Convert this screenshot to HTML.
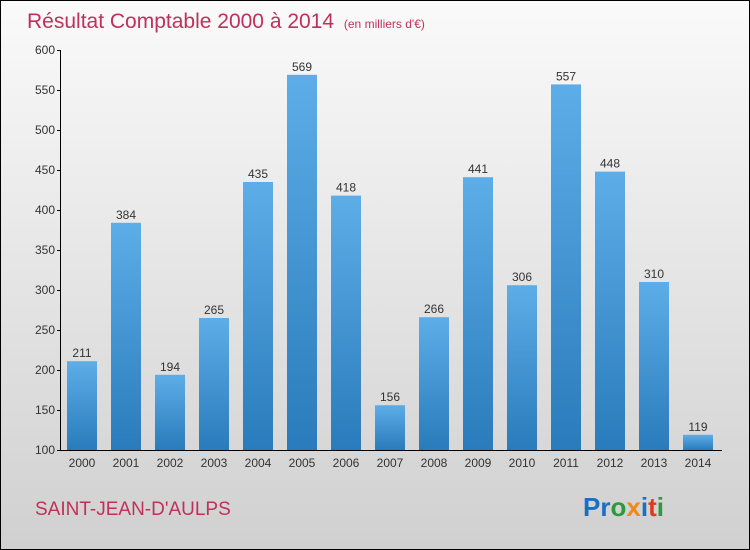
<!DOCTYPE html>
<html><head><meta charset="utf-8"><style>
body{margin:0;}
#wrap{position:relative;width:748px;height:548px;border:1px solid #000;background:linear-gradient(#fafafa,#d0d0d0);font-family:"Liberation Sans",sans-serif;overflow:hidden;}
</style></head><body>
<div id="wrap">
<svg id="chart" width="748" height="548">
  <defs>
    <linearGradient id="bg" x1="0" y1="0" x2="0" y2="1">
      <stop offset="0" stop-color="#5dade8"/><stop offset="1" stop-color="#2a7bbb"/>
    </linearGradient>
  </defs>
  <text x="26" y="27" font-size="21" fill="#c0305a">Résultat Comptable 2000 à 2014 <tspan font-size="12" dx="4">(en milliers d'€)</tspan></text>
  <g id="axes"></g>
  <g id="bars"></g>
  <text x="34" y="514" font-size="19" fill="#c0305a">SAINT-JEAN-D'AULPS</text>
  <text x="582" y="515" font-size="26" font-weight="bold"><tspan fill="#1a6fc4">Pr</tspan><tspan fill="#2a9a3a">o</tspan><tspan fill="#f08a10">x</tspan><tspan fill="#1a6fc4">i</tspan><tspan fill="#e03a1a">t</tspan><tspan fill="#2a9a3a">i</tspan></text>
</svg>
</div>
<script>
const years=["2000","2001","2002","2003","2004","2005","2006","2007","2008","2009","2010","2011","2012","2013","2014"];
const values=[211,384,194,265,435,569,418,156,266,441,306,557,448,310,119];
const ticks=[100,150,200,250,300,350,400,450,500,550,600];
const NS="http://www.w3.org/2000/svg";
const y0=449, yTop=49, vMin=100, vMax=600;
function yScale(v){return y0-(v-vMin)/(vMax-vMin)*(y0-yTop);}
function xCenter(i){return 81+44*i;}
function mk(tag,attrs,parent){const e=document.createElementNS(NS,tag);for(const k in attrs)e.setAttribute(k,attrs[k]);parent.appendChild(e);return e;}
const axes=document.getElementById('axes'), bars=document.getElementById('bars');
const yl=mk('line',{x1:59.5,x2:59.5,y1:yTop,y2:y0+1,stroke:'#000'},axes);


const xl=mk('line',{x1:59,x2:721,y1:y0+0.5,y2:y0+0.5,stroke:'#000'},axes);


ticks.forEach(t=>{
  const y=yScale(t);
  mk('line',{x1:56,x2:60,y1:y+0.5,y2:y+0.5,stroke:'#000'},axes);
  const tx=mk('text',{x:54,y:y+4,'font-size':12,'text-anchor':'end',fill:'#333'},axes);
  tx.textContent=t;
  
  
});
years.forEach((yr,i)=>{
  const cx=xCenter(i), v=values[i], top=yScale(v);
  const r=mk('rect',{x:cx-15,y:top,width:30,height:y0-top,fill:'url(#bg)'},bars);
  
  
  const lb=mk('text',{x:cx,y:top-4,'font-size':12,'text-anchor':'middle',fill:'#333'},bars);
  lb.textContent=v;
  
  
  const xt=mk('text',{x:cx,y:466,'font-size':12,'text-anchor':'middle',fill:'#333'},axes);
  xt.textContent=yr;
  
  
});
</script>
</body></html>
